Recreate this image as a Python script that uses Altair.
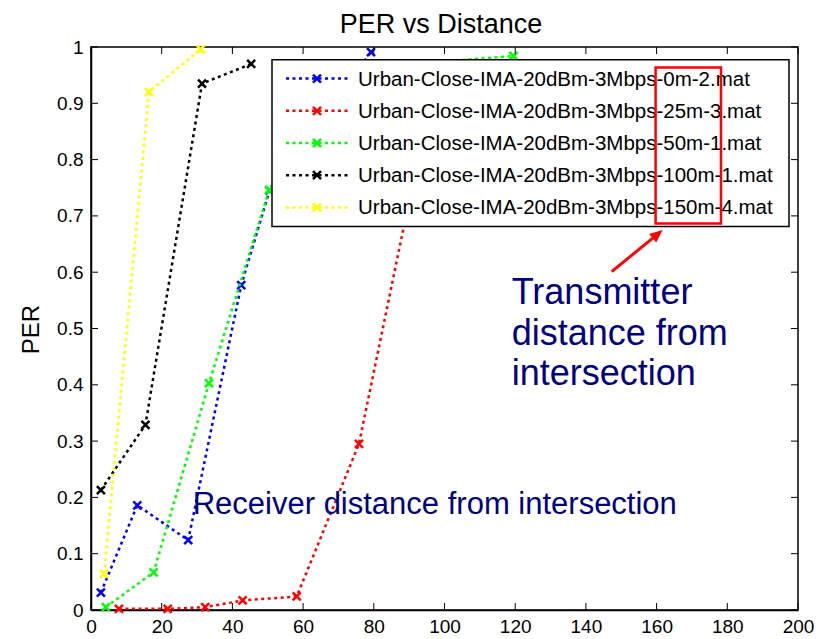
import altair as alt
import pandas as pd

# ---------------- data ----------------
series_names = [
    "Urban-Close-IMA-20dBm-3Mbps-0m-2.mat",
    "Urban-Close-IMA-20dBm-3Mbps-25m-3.mat",
    "Urban-Close-IMA-20dBm-3Mbps-50m-1.mat",
    "Urban-Close-IMA-20dBm-3Mbps-100m-1.mat",
    "Urban-Close-IMA-20dBm-3Mbps-150m-4.mat",
]
series_colors = ["#0000FF", "#FF0000", "#00FF00", "#000000", "#FFFF00"]

blue_x = [2.8, 13.1, 27.5, 42.5, 50.5, 79.2]
blue_y = [0.031, 0.186, 0.124, 0.577, 0.745, 0.991]

red_x = [7.9, 21.7, 32.3, 42.9, 58.2, 75.8, 98.0]
red_y = [0.002, 0.002, 0.005, 0.017, 0.024, 0.295, 0.97]

green_x = [4.2, 17.7, 33.4, 50.4, 70.0, 119.5]
green_y = [0.005, 0.067, 0.403, 0.746, 0.96, 0.984]

black_x = [2.8, 15.4, 31.4, 45.3]
black_y = [0.213, 0.329, 0.935, 0.970]

yellow_x = [3.7, 16.4, 31.0]
yellow_y = [0.064, 0.920, 0.996]

series_x = [blue_x, red_x, green_x, black_x, yellow_x]
series_y = [blue_y, red_y, green_y, black_y, yellow_y]

x_ticks = [0, 20, 40, 60, 80, 100, 120, 140, 160, 180, 200]
y_ticks = [0.0, 0.1, 0.2, 0.3, 0.4, 0.5, 0.6, 0.7, 0.8, 0.9, 1.0]

title_text = "PER vs Distance"
y_title = "PER"
rx_note = "Receiver distance from intersection"
tx_note = ["Transmitter", "distance from", "intersection"]

# ---------------- layout / style ----------------
W, H = 707, 563
FONT = "Liberation Sans"
NAVY = "#000080"
XPATH = "M-1,-1L1,1M-1,1L1,-1"
DASH = [3, 3.5]

xs = alt.Scale(domain=[0, 200], nice=False, zero=False)
ys = alt.Scale(domain=[0, 1], nice=False, zero=False)

x_axis = alt.Axis(values=x_ticks, format="d", grid=False, ticks=False, tickSize=0,
                  labelPadding=22, labelBaseline="alphabetic", labelFontSize=19,
                  labelFont=FONT, labelColor="black", labelFlush=False,
                  labelOverlap=False, domainColor="black", domainWidth=1.5, title=None)
y_axis = alt.Axis(values=y_ticks, format=".1~f", grid=False, ticks=False, tickSize=0,
                  labelPadding=8, labelFontSize=19, labelFont=FONT, labelColor="black",
                  labelFlush=False, labelOverlap=False, domainColor="black", domainWidth=1.5,
                  title=y_title, titleFont=FONT, titleFontSize=24, titleFontWeight="normal",
                  titleColor="black", titleAngle=270, titleX=-53, titleY=282,
                  titleAlign="center", titleBaseline="alphabetic")

X = lambda: alt.X("x:Q", scale=xs, axis=x_axis)
Y = lambda: alt.Y("y:Q", scale=ys, axis=y_axis)

one = pd.DataFrame({"a": [0]})
layers = []

# series lines and markers
for sx, sy, col in zip(series_x, series_y, series_colors):
    df = pd.DataFrame({"x": sx, "y": sy})
    base = alt.Chart(df)
    layers.append(base.mark_line(color=col, strokeWidth=2.5, strokeDash=DASH,
                                 strokeCap="butt").encode(x=X(), y=Y()))
    layers.append(base.mark_point(shape=XPATH, size=64, strokeWidth=2.5, filled=False,
                                  color=col, opacity=1).encode(x=X(), y=Y()))

# inward ticks (MATLAB box style)
dfx = pd.DataFrame({"x": x_ticks})
dfy = pd.DataFrame({"y": y_ticks})
layers.append(alt.Chart(dfx).mark_rule(color="black", strokeWidth=1).encode(
    x=X(), y=alt.value(H), y2=alt.value(H - 7)))
layers.append(alt.Chart(dfx).mark_rule(color="black", strokeWidth=1).encode(
    x=X(), y=alt.value(0), y2=alt.value(7)))
layers.append(alt.Chart(dfy).mark_rule(color="black", strokeWidth=1).encode(
    y=Y(), x=alt.value(0), x2=alt.value(7)))
layers.append(alt.Chart(dfy).mark_rule(color="black", strokeWidth=1).encode(
    y=Y(), x=alt.value(W), x2=alt.value(W - 7)))

# legend box
LX0, LX1, LY0, LY1 = 181, 698, 12.7, 179.6
layers.append(alt.Chart(one).mark_rect(fill="white", stroke="black", strokeWidth=1.5).encode(
    x=alt.value(LX0), x2=alt.value(LX1), y=alt.value(LY0), y2=alt.value(LY1)))
for i, (name, col) in enumerate(zip(series_names, series_colors)):
    ry = 31.6 + 32.2 * i
    layers.append(alt.Chart(one).mark_rule(color=col, strokeWidth=2.5, strokeDash=DASH,
                                           strokeCap="butt").encode(
        x=alt.value(195), x2=alt.value(259), y=alt.value(ry)))
    layers.append(alt.Chart(one).mark_point(shape=XPATH, size=64, strokeWidth=2.5,
                                            filled=False, color=col, opacity=1).encode(
        x=alt.value(226), y=alt.value(ry)))
    layers.append(alt.Chart(one).mark_text(text=name, font=FONT, fontSize=20.5, align="left",
                                           baseline="middle", color="black").encode(
        x=alt.value(267), y=alt.value(ry + 1)))

# red highlight rectangle
layers.append(alt.Chart(one).mark_rect(fill=None, stroke="#FF0000", strokeWidth=2.5).encode(
    x=alt.value(564.6), x2=alt.value(630), y=alt.value(20.6), y2=alt.value(176.5)))

# arrow
layers.append(alt.Chart(one).mark_rule(color="#FF0000", strokeWidth=3).encode(
    x=alt.value(520.7), y=alt.value(224.7), x2=alt.value(564.5), y2=alt.value(188.8)))
layers.append(alt.Chart(one).mark_point(shape="M0,0L0.85,2L-0.85,2Z", size=169, filled=True,
                                        color="#FF0000", opacity=1, angle=50.7).encode(
    x=alt.value(571.7), y=alt.value(183)))

# annotations
layers.append(alt.Chart(one).mark_text(text=tx_note, font=FONT, fontSize=36, lineHeight=40.5,
                                       align="left", baseline="alphabetic", color=NAVY).encode(
    x=alt.value(420.7), y=alt.value(257.3)))
layers.append(alt.Chart(one).mark_text(text=rx_note, font=FONT, fontSize=31, align="left",
                                       baseline="alphabetic", color=NAVY).encode(
    x=alt.value(101.7), y=alt.value(467)))

# chart title
layers.append(alt.Chart(one).mark_text(text=title_text, font=FONT, fontSize=27, align="center",
                                       baseline="alphabetic", color="black").encode(
    x=alt.value(350), y=alt.value(-14)))

chart = alt.layer(*layers).properties(
    width=W, height=H,
    autosize=alt.AutoSizeParams(type="none"),
    padding={"left": 83, "top": 39, "right": 21, "bottom": 28},
    background="white",
).configure_view(stroke="black", strokeWidth=1.5)

chart.save("out.html", embed_options={"renderer": "svg", "actions": False})
